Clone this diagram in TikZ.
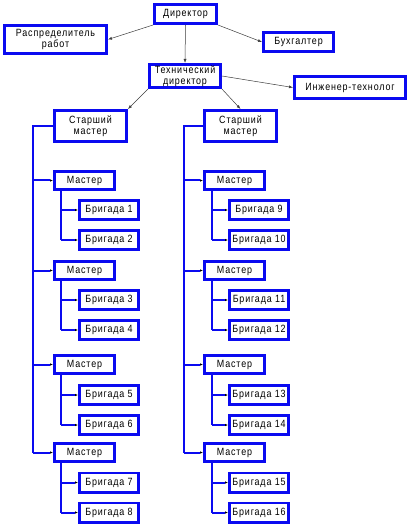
\documentclass[tikz,border=0pt]{standalone}
\usepackage{fontspec}
\setmainfont{Liberation Sans}[LetterSpace=8,FakeStretch=0.85]
\usetikzlibrary{arrows.meta}
\definecolor{boxblue}{RGB}{10,10,240}
\definecolor{thin}{RGB}{60,60,60}
\tikzset{
  box/.style={draw=boxblue, line width=2.6pt, fill=white, inner sep=1pt, align=center,
    font=\fontsize{10.5}{11.5}\selectfont},
  bus/.style={draw=boxblue, line width=2pt},
  busarrow/.style={bus, -{Latex[black,length=3pt,width=2.5pt]}},
  thinarrow/.style={draw=thin, line width=0.5pt, -{Latex[length=4pt,width=3pt]}}
}
\begin{document}
\begin{tikzpicture}[x=1pt,y=-1pt]
\useasboundingbox (0,0) rectangle (410,529);
% top level
\node[box, minimum width=62.4pt, minimum height=19.4pt] (dir) at (185.5,14) {Директор};
\node[box, minimum width=102.4pt, minimum height=28.4pt] (rasp) at (55.5,39.5) {Распределитель\\работ};
\node[box, minimum width=70.4pt, minimum height=19.4pt] (buh) at (298.5,42) {Бухгалтер};
\node[box, minimum width=71.4pt, minimum height=23.4pt] (tech) at (185,76) {Технический\\директор};
\node[box, minimum width=111.4pt, minimum height=22.4pt] (ing) at (350,87.5) {Инженер-технолог};
\node[box, minimum width=72.4pt, minimum height=31.4pt] (smL) at (90.5,126) {Старший\\мастер};
\node[box, minimum width=72.4pt, minimum height=31.4pt] (smR) at (240.5,126) {Старший\\мастер};
% thin arrows
\draw[thinarrow] (dir.south west) -- (rasp.east);
\draw[thinarrow] (dir.south east) -- (buh.west);
\draw[thinarrow] (dir.south) -- (tech.north);
\draw[thinarrow] (tech.east) -- (ing.west);
\draw[thinarrow] (tech.south west) -- (smL.north east);
\draw[thinarrow] (tech.south east) -- (smR.north);
% masters and brigades
\foreach \side/\mx/\bx in {L/84.5/109, R/234.5/259}{
  \foreach \i/\my in {1/180.5, 2/270.5, 3/364.5, 4/452.5}{
    \node[box, minimum width=60.4pt, minimum height=18.4pt] (m\side\i) at (\mx,\my) {Мастер};
  }
}
\foreach \i/\by in {1/210, 2/240, 3/300, 4/330, 5/395, 6/425, 7/482.5, 8/512.5}{
  \node[box, minimum width=59.4pt, minimum height=19.4pt] (bL\i) at (109,\by) {Бригада \i};
}
\foreach \i/\by in {9/210, 10/240, 11/300, 12/330, 13/395, 14/425, 15/482.5, 16/512.5}{
  \node[box, minimum width=59.4pt, minimum height=19.4pt] (bR\i) at (259,\by) {Бригада \i};
}
% bus coordinates
\coordinate (busL) at (33,0);
\coordinate (busR) at (184,0);
\coordinate (subL) at (61,0);
\coordinate (subR) at (212,0);
% main buses
\draw[bus] (smL.west) -- (busL |- smL.west) -- (busL |- mL4.west);
\draw[bus] (smR.west) -- (busR |- smR.west) -- (busR |- mR4.west);
\foreach \i in {1,2,3,4}{
  \draw[busarrow] (busL |- mL\i.west) -- (mL\i.west);
  \draw[busarrow] (busR |- mR\i.west) -- (mR\i.west);
}
% sub buses
\foreach \m/\a/\b in {1/1/2, 2/3/4, 3/5/6, 4/7/8}{
  \draw[bus] (subL |- mL\m.south) -- (subL |- bL\b.west);
  \draw[busarrow] (subL |- bL\a.west) -- (bL\a.west);
  \draw[busarrow] (subL |- bL\b.west) -- (bL\b.west);
}
\foreach \m/\a/\b in {1/9/10, 2/11/12, 3/13/14, 4/15/16}{
  \draw[bus] (subR |- mR\m.south) -- (subR |- bR\b.west);
  \draw[busarrow] (subR |- bR\a.west) -- (bR\a.west);
  \draw[busarrow] (subR |- bR\b.west) -- (bR\b.west);
}
\end{tikzpicture}
\end{document}
